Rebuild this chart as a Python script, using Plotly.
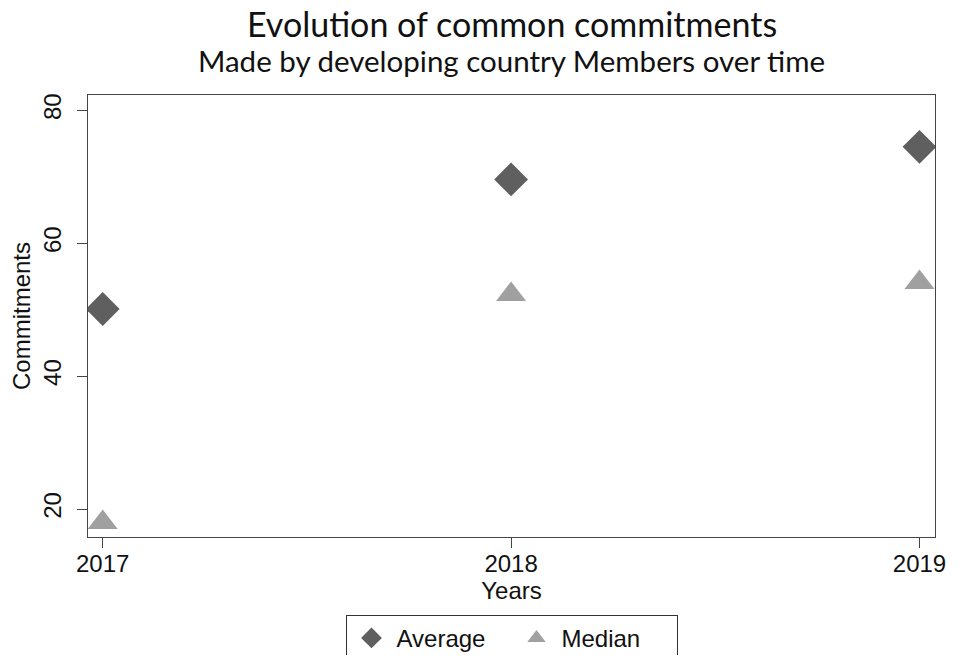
import plotly.graph_objects as go

years = [2017, 2018, 2019]
average = [50.1, 69.6, 74.5]
median = [18.0, 52.3, 54.1]

fig = go.Figure()
fig.add_trace(go.Scatter(
    x=years, y=average, mode='markers', name='Average',
    marker=dict(symbol='diamond', size=26, color='#5f5f5f'),
))
fig.add_trace(go.Scatter(
    x=years, y=median, mode='markers', name='Median',
    marker=dict(symbol='triangle-up', size=26, color='#a0a0a0'),
))

axis_font = dict(family='Liberation Sans, Arial, sans-serif', size=24, color='#111')

# page body has an 8px margin, so keep the figure inside the window
fig.update_layout(
    width=948, height=647,
    margin=dict(l=80, r=21, t=87, b=118, autoexpand=False),
    paper_bgcolor='white', plot_bgcolor='white',
    font=axis_font,
    showlegend=True,
    legend=dict(
        orientation='h', x=0.5, xanchor='center', y=-0.176, yanchor='top',
        bordercolor='#333', borderwidth=1, font=axis_font,
        itemwidth=40, entrywidth=110,
    ),
    annotations=[
        dict(text='Evolution of common commitments', x=0.5, y=1.162,
             xref='paper', yref='paper', showarrow=False, yanchor='middle',
             font=dict(family='Lato, sans-serif', size=34, color='#111')),
        dict(text='Made by developing country Members over time', x=0.5, y=1.079,
             xref='paper', yref='paper', showarrow=False, yanchor='middle',
             font=dict(family='Lato, sans-serif', size=29.5, color='#111')),
    ],
)

fig.update_xaxes(
    range=[2016.964, 2019.038], tickvals=years, ticktext=[str(y) for y in years],
    ticks='outside', ticklen=10, tickcolor='#444', ticklabelstandoff=-5,
    showline=True, mirror=True, linecolor='#444', linewidth=1,
    showgrid=False, zeroline=False,
    title=dict(text='Years', standoff=0, font=axis_font),
)
fig.update_yaxes(
    range=[15.8, 82.3], tickvals=[20, 40, 60, 80], tickangle=-90,
    ticks='outside', ticklen=10, tickcolor='#444', ticklabelstandoff=6,
    showline=True, mirror=True, linecolor='#444', linewidth=1,
    showgrid=False, zeroline=False,
    title=dict(text='Commitments', standoff=12, font=axis_font),
)

fig.write_html("out.html")
